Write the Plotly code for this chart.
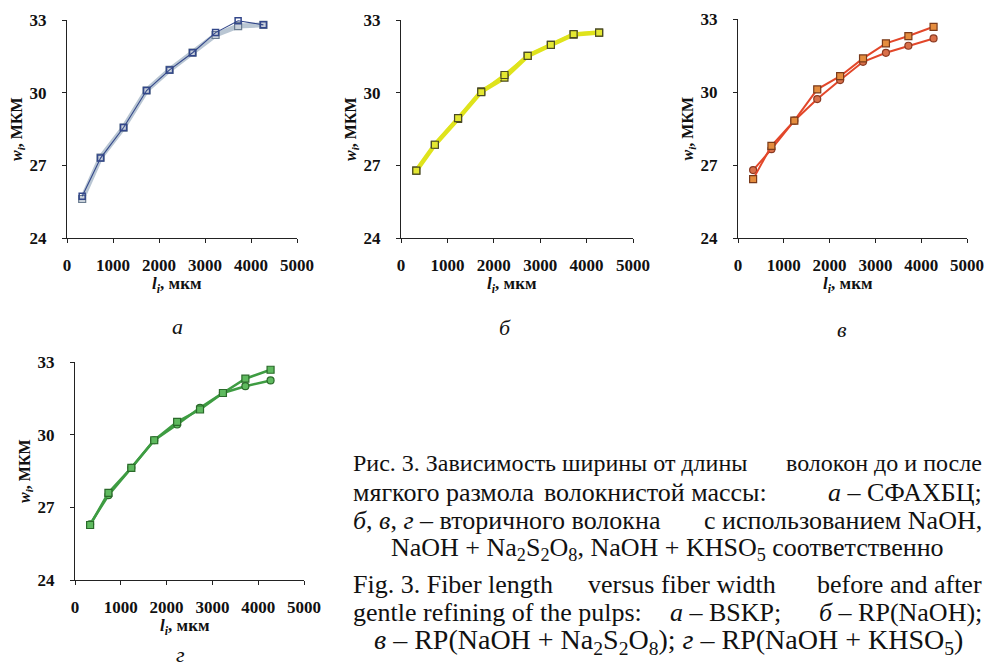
import plotly.graph_objects as go

W, H = 988, 670

# ---- data ----
x_len = [330, 730, 1230, 1730, 2230, 2730, 3230, 3720, 4270]

a_before = [25.72, 27.3, 28.56, 30.09, 30.94, 31.65, 32.48, 32.97, 32.8]
a_after = [25.61, 27.32, 28.56, 30.09, 30.94, 31.65, 32.38, 32.75, 32.8]

b_before = [26.78, 27.85, 28.95, 30.02, 30.73, 31.52, 31.97, 32.42, 32.48]
b_after = [26.78, 27.85, 28.92, 30.05, 30.62, 31.52, 31.97, 32.40, 32.48]

c_sq = [26.42, 27.79, 28.82, 30.11, 30.65, 31.38, 32.0, 32.3, 32.68]
c_ci = [26.79, 27.65, 28.82, 29.71, 30.49, 31.24, 31.61, 31.9, 32.2]

d_sq = [26.27, 27.6, 28.63, 29.77, 30.53, 31.04, 31.72, 32.31, 32.68]
d_ci = [26.3, 27.5, 28.63, 29.77, 30.42, 31.11, 31.72, 32.0, 32.24]

x_ticks = [0, 1000, 2000, 3000, 4000, 5000]
y_ticks = [24, 27, 30, 33]

panel_letters = ["а", "б", "в", "г"]

SERIF = "Liberation Serif, Times New Roman, serif"

# panel boxes in page pixels: (x0, x1, ytop, ybottom)
boxes = [(67, 297, 20, 238), (401, 633, 20, 238), (738, 967, 19, 238), (75, 304, 362, 580)]

fig = go.Figure()

def px2x(p):
    return p / W

def px2y(p):
    return 1 - p / H

tf = dict(family=SERIF, size=17, color="#111", weight="bold")
for i, (x0, x1, yt, yb) in enumerate(boxes):
    n = "" if i == 0 else str(i + 1)
    fig.layout["xaxis" + n] = dict(
        domain=[px2x(x0), px2x(x1)], range=[0, 5000], anchor="y" + n,
        tickvals=x_ticks, ticks="outside", ticklen=4, tickwidth=1, tickcolor="#222",
        showline=True, linecolor="#222", linewidth=1.3, showgrid=False, zeroline=False,
        tickfont=tf, ticklabelstandoff=7, automargin=False,
    )
    fig.layout["yaxis" + n] = dict(
        domain=[px2y(yb), px2y(yt)], range=[24, 33], anchor="x" + n,
        tickvals=y_ticks, ticks="outside", ticklen=4, tickwidth=1, tickcolor="#222",
        showline=True, linecolor="#222", linewidth=1.3, showgrid=False, zeroline=False,
        tickfont=tf, ticklabelstandoff=12, automargin=False,
    )

def add(xa, ya, y, color, width, symbol, mfill, mline, msize=7, mlw=1.2):
    fig.add_trace(go.Scatter(
        x=x_len, y=y, xaxis=xa, yaxis=ya, mode="lines+markers",
        line=dict(color=color, width=width),
        marker=dict(symbol=symbol, size=msize, color=mfill, line=dict(color=mline, width=mlw)),
        showlegend=False, hoverinfo="skip", cliponaxis=False,
    ))

# a
add("x", "y", a_after, "#b9c6d3", 5, "square", "#c9d1da", "#6a7c90", 7, 1.2)
add("x", "y", a_before, "#33478a", 1.1, "square-open", "#33478a", "#33478a", 6, 1.5)
# b
add("x2", "y2", b_after, "#dfe31c", 4.5, "square", "#e4e832", "#4a4a22", 7, 1.2)
add("x2", "y2", b_before, "#dfe31c", 3, "square", "#e4e832", "#4a4a22", 7, 1.2)
# c
add("x3", "y3", c_ci, "#e2472a", 2, "circle", "#d9704a", "#8a3a22", 7, 1.2)
add("x3", "y3", c_sq, "#e2472a", 2, "square", "#e58d3e", "#7a3a1a", 7, 1.2)
# d
add("x4", "y4", d_ci, "#3e9c42", 2.5, "circle", "#5fba5f", "#2a6a2a", 7, 1.2)
add("x4", "y4", d_sq, "#3e9c42", 2.5, "square", "#5fba5f", "#2a6a2a", 7, 1.2)

ann = []
def text(x, y, s, size=15, anchor="center", angle=0, italic=False, weight="normal"):
    if italic:
        s = "<i>" + s + "</i>"
    ann.append(dict(x=px2x(x), y=px2y(y), xref="paper", yref="paper", text=s, showarrow=False,
                    xanchor=anchor, yanchor="middle", textangle=angle, borderpad=0,
                    font=dict(family=SERIF, size=size, color="#111", weight=weight)))

xt = "<i>l<sub>i</sub></i>, мкм"
yt = "<i>w<sub>i</sub></i>, МКМ"
label_pos = [(177, 326), (505, 327), (842, 329), (180, 654)]
for i, (x0, x1, ytp, yb) in enumerate(boxes):
    text((x0 + x1) / 2 - 5, yb + 47, xt, size=17, weight="bold")
    text(x0 - 50, (ytp + yb) / 2, yt, size=16, angle=-90, weight="bold")
    text(label_pos[i][0], label_pos[i][1], panel_letters[i], size=22, italic=True)

cap = 26
L, R = 352, 983

# line 1 (condensed)
text(L, 463, "Рис. 3. Зависимость ширины от длины", size=24, anchor="left")
text(R, 463, "волокон до и после", size=24, anchor="right")
# line 2 (justified)
text(L, 492, "мягкого размола", size=cap, anchor="left")
text(655, 492, "волокнистой массы:", size=cap)
text(R, 492, "<i>а</i> – СФАХБЦ;", size=cap, anchor="right")
# line 3
text(L, 520, "<i>б</i>, <i>в</i>, <i>г</i> – вторичного волокна", size=cap, anchor="left")
text(R, 520, "с использованием NaOH,", size=cap, anchor="right")
# line 4 (centered)
text(667, 549, "NaOH + Na<sub>2</sub>S<sub>2</sub>O<sub>8</sub>, NaOH + KHSO<sub>5</sub> соответственно", size=cap)
# line 5 (justified)
text(L, 584, "Fig. 3. Fiber length", size=cap, anchor="left")
text(682, 584, "versus fiber width", size=cap)
text(R, 584, "before and after", size=cap, anchor="right")
# line 6 (justified)
text(L, 612, "gentle refining of the pulps:", size=cap, anchor="left")
text(725, 612, "<i>а</i> – BSKP;", size=cap)
text(R, 612, "<i>б</i> – RP(NaOH);", size=cap, anchor="right")
# line 7 (centered)
text(668, 641, "<i>в</i> – RP(NaOH + Na<sub>2</sub>S<sub>2</sub>O<sub>8</sub>); <i>г</i> – RP(NaOH + KHSO<sub>5</sub>)", size=28)

fig.update_layout(
    width=W, height=H, margin=dict(l=0, r=0, t=0, b=0, autoexpand=False),
    paper_bgcolor="white", plot_bgcolor="white", annotations=ann,
)

# remove the default 8px page margin so the 988x670 figure fills the window exactly
fig.write_html("out.html", config={"displayModeBar": False},
               post_script="document.body.style.margin='0';")
